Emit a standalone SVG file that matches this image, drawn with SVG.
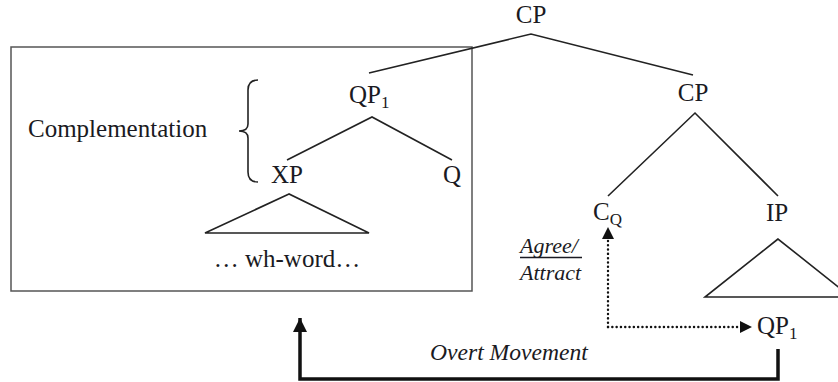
<svg xmlns="http://www.w3.org/2000/svg" width="838" height="382" viewBox="0 0 838 382">
<defs>
<style>
.t{font-family:"Liberation Serif","Times New Roman",serif;font-size:25px;fill:#1a1a22;}
.i{font-family:"Liberation Serif","Times New Roman",serif;font-style:italic;font-size:22px;fill:#1a1a22;}
.sub{font-size:17px;}
.br{stroke:#222;stroke-width:1.6;fill:none;}
.dot{fill:none;stroke:#111;stroke-width:2.4;stroke-linecap:round;stroke-dasharray:0.1,4.2;}
</style>
<marker id="ah" viewBox="0 0 10 10" refX="10" refY="5" markerWidth="12" markerHeight="12" markerUnits="userSpaceOnUse" orient="auto">
<path d="M0,0 L10,5 L0,10 Z" fill="#111"/>
</marker>
<marker id="ahb" viewBox="0 0 10 10" refX="10" refY="5" markerWidth="14" markerHeight="14" markerUnits="userSpaceOnUse" orient="auto">
<path d="M0,0 L10,5 L0,10 Z" fill="#111"/>
</marker>
</defs>
<rect width="838" height="382" fill="#fff"/>

<g id="box"><rect x="11" y="47" width="461" height="244" fill="none" stroke="#555" stroke-width="1.5"/></g>

<g id="branches">
<path class="br" d="M369,73 L531,34 L693,75"/>
<path class="br" d="M287,160 L372,117 L452,160"/>
<path class="br" d="M608,196 L695,113 L778,196"/>
<path class="br" d="M289,194 L205,233 L369,233 Z"/>
<path class="br" d="M778,239 L705,297 L851,297 Z"/>
<path class="br" d="M258,80 Q248,80 248,90 L248,124 Q248,131 239,131 Q248,131 248,138 L248,172 Q248,182 258,182"/>
</g>

<g id="node-cp-top"><text class="t" x="531" y="23" text-anchor="middle">CP</text></g>
<g id="node-qp1"><text class="t" x="349" y="103">QP<tspan class="sub" dy="5">1</tspan></text></g>
<g id="node-xp"><text class="t" x="287" y="183" text-anchor="middle">XP</text></g>
<g id="node-q"><text class="t" x="452" y="183" text-anchor="middle">Q</text></g>
<g id="node-cp"><text class="t" x="693" y="101" text-anchor="middle">CP</text></g>
<g id="node-cq"><text class="t" x="593" y="220">C<tspan class="sub" dy="5">Q</tspan></text></g>
<g id="node-ip"><text class="t" x="777" y="221" text-anchor="middle">IP</text></g>
<g id="node-wh"><text class="t" x="287" y="267" text-anchor="middle">… wh-word…</text></g>
<g id="node-qp1-low"><text class="t" x="757" y="334">QP<tspan class="sub" dy="5">1</tspan></text></g>
<g id="label-compl"><text class="t" x="28" y="137">Complementation</text></g>
<g id="label-agree">
<text class="i" x="520" y="253">Agree/</text>
<line x1="520" y1="257.5" x2="582" y2="257.5" stroke="#1a1a22" stroke-width="1.3"/>
<text class="i" x="520" y="280">Attract</text>
</g>
<g id="label-overt"><text class="i" x="430" y="360" style="font-size:23.6px">Overt Movement</text></g>

<g id="connectors">
<path class="dot" d="M608,327 L608,238"/>
<path d="M608,240 L608,227" fill="none" stroke="none" marker-end="url(#ah)"/>
<path class="dot" d="M608,327 L741,327"/>
<path d="M740,327 L752,327" fill="none" stroke="none" marker-end="url(#ah)"/>
<path d="M778,349 L778,379 L300,379 L300,318" fill="none" stroke="#111" stroke-width="3.5" marker-end="url(#ahb)"/>
</g>
</svg>
